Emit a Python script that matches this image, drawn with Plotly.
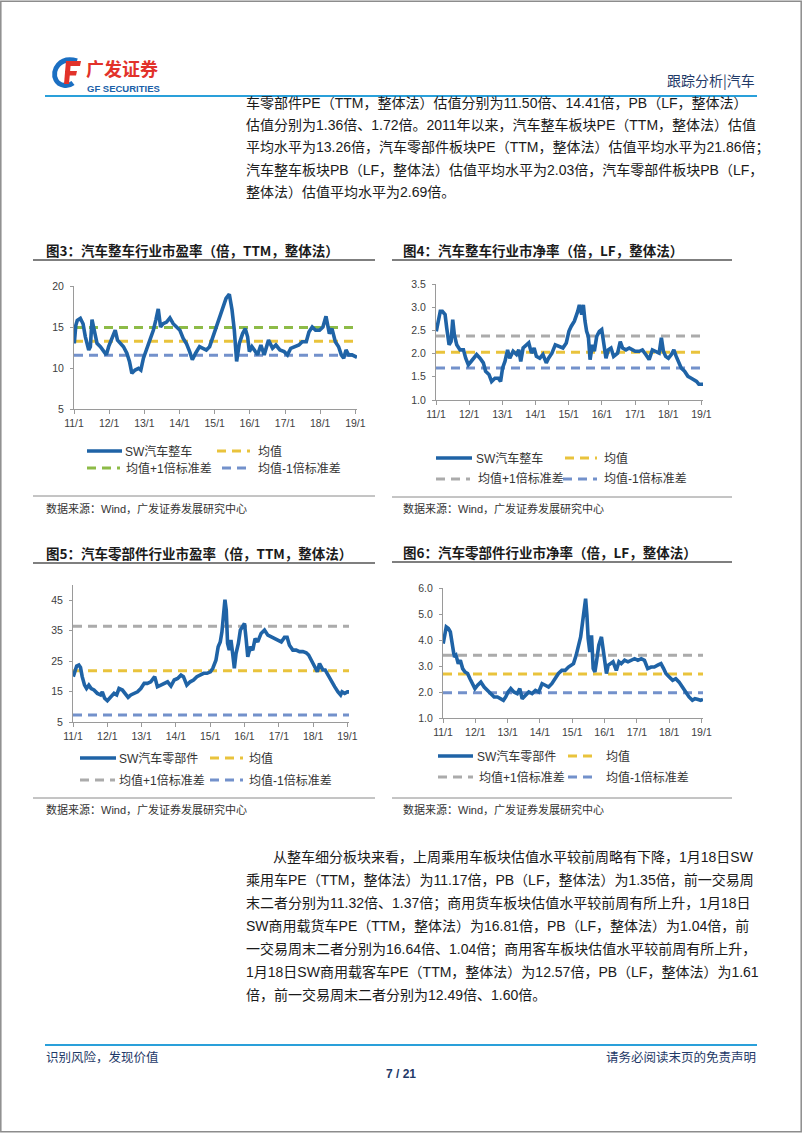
import plotly.graph_objects as go

W, H = 802, 1133

# ---------------- data ----------------
tick_dates = ["2011-01-01", "2012-01-01", "2013-01-01", "2014-01-01", "2015-01-01",
              "2016-01-01", "2017-01-01", "2018-01-01", "2019-01-01"]
tick_labels = ["11/1", "12/1", "13/1", "14/1", "15/1", "16/1", "17/1", "18/1", "19/1"]
x_start, x_end = "2011-01-01", "2019-01-18"

# Fig 3: SW auto (vehicles) PE TTM
auto_pe_dates = ["2011-01-04", "2011-01-20", "2011-02-04", "2011-03-08", "2011-04-05", "2011-04-29", "2011-06-03",
                 "2011-06-20", "2011-07-07", "2011-08-01", "2011-08-28", "2011-10-02", "2011-11-05", "2011-12-03",
                 "2011-12-27", "2012-01-31", "2012-03-04", "2012-03-28", "2012-04-25", "2012-05-29", "2012-07-03",
                 "2012-07-30", "2012-08-24", "2012-09-27", "2012-11-01", "2012-11-25", "2012-12-22", "2013-01-26",
                 "2013-02-28", "2013-04-04", "2013-05-01", "2013-05-25", "2013-06-18", "2013-07-15", "2013-08-19",
                 "2013-09-23", "2013-10-27", "2013-12-01", "2014-01-05", "2014-02-08", "2014-03-13", "2014-04-16",
                 "2014-05-14", "2014-06-17", "2014-07-28", "2014-09-01", "2014-10-06", "2014-11-09", "2014-12-13",
                 "2015-01-17", "2015-02-21", "2015-03-25", "2015-04-29", "2015-06-02", "2015-06-30", "2015-07-24",
                 "2015-08-17", "2015-09-14", "2015-10-18", "2015-11-15", "2015-12-09", "2015-12-27", "2016-01-23",
                 "2016-02-17", "2016-03-21", "2016-04-25", "2016-05-29", "2016-07-13", "2016-08-24", "2016-09-28",
                 "2016-11-08", "2016-12-22", "2017-01-26", "2017-03-01", "2017-04-20", "2017-05-25", "2017-06-28",
                 "2017-08-09", "2017-09-06", "2017-10-10", "2017-11-14", "2017-12-25", "2018-01-29", "2018-03-02",
                 "2018-04-06", "2018-05-03", "2018-06-07", "2018-07-11", "2018-08-08", "2018-09-02", "2018-09-26",
                 "2018-10-23", "2018-11-27", "2019-01-18"]
auto_pe = [13.0, 15.2, 15.8, 16.05, 15.4, 13.8, 12.2,
           12.6, 15.9, 14.6, 13.0, 12.6, 12.0, 11.6,
           12.6, 13.6, 14.6, 13.4, 13.0, 12.6, 11.8,
           10.8, 9.35, 9.75, 9.96, 9.75, 11.2, 12.4,
           13.2, 14.6, 15.9, 17.2, 15.0, 15.4, 15.6,
           16.1, 15.4, 15.0, 14.6, 13.6, 13.0, 12.0,
           11.0, 11.8, 12.6, 12.4, 12.2, 12.6, 13.8,
           15.2, 16.3, 17.5, 18.5, 19.0, 17.1, 14.6,
           10.8, 13.0, 14.2, 14.8, 13.8, 12.0, 12.6,
           12.2, 11.6, 12.8, 11.6, 13.4, 12.4, 12.8,
           12.2, 12.0, 11.6, 12.4, 12.6, 12.8, 13.2,
           13.2, 14.4, 15.0, 14.6, 14.6, 15.0, 16.3,
           14.2, 14.8, 13.2, 12.6, 11.6, 11.2, 12.2,
           11.6, 11.6, 11.3]
auto_pe_bands = [13.26, 14.95, 11.57]   # mean, mean+1sd, mean-1sd

# Fig 4: SW auto (vehicles) PB LF
auto_pb_dates = ["2011-01-04", "2011-01-30", "2011-02-17", "2011-03-12", "2011-04-11", "2011-04-29", "2011-05-25",
                 "2011-06-16", "2011-07-04", "2011-07-22", "2011-08-17", "2011-09-23", "2011-10-30", "2011-11-24",
                 "2011-12-23", "2012-01-22", "2012-02-28", "2012-03-23", "2012-04-29", "2012-06-05", "2012-06-30",
                 "2012-08-06", "2012-09-04", "2012-10-11", "2012-11-17", "2012-12-12", "2013-01-03", "2013-01-29",
                 "2013-02-27", "2013-03-23", "2013-04-29", "2013-06-05", "2013-06-30", "2013-07-22", "2013-08-17",
                 "2013-09-23", "2013-10-18", "2013-11-17", "2013-12-16", "2014-01-10", "2014-02-16", "2014-03-23",
                 "2014-04-29", "2014-05-24", "2014-06-30", "2014-08-06", "2014-09-22", "2014-10-29", "2014-12-05",
                 "2015-01-03", "2015-01-29", "2015-03-04", "2015-04-10", "2015-04-28", "2015-05-24", "2015-06-11",
                 "2015-06-29", "2015-07-17", "2015-08-05", "2015-08-24", "2015-09-18", "2015-10-10", "2015-11-05",
                 "2015-12-04", "2015-12-30", "2016-01-21", "2016-02-15", "2016-03-11", "2016-04-10", "2016-05-09",
                 "2016-06-22", "2016-07-21", "2016-08-16", "2016-09-22", "2016-10-28", "2016-12-04", "2017-01-02",
                 "2017-02-15", "2017-03-22", "2017-04-28", "2017-06-04", "2017-07-10", "2017-08-16", "2017-09-22",
                 "2017-10-17", "2017-11-08", "2017-12-03", "2018-01-02", "2018-02-04", "2018-03-03", "2018-03-29",
                 "2018-04-27", "2018-05-23", "2018-06-29", "2018-08-05", "2018-09-11", "2018-10-10", "2018-11-08",
                 "2018-12-03", "2019-01-18"]
auto_pb = [2.48, 2.70, 2.91, 2.91, 2.84, 2.55, 2.19,
           2.26, 2.73, 2.41, 2.19, 2.08, 2.08, 1.90,
           1.76, 1.83, 1.94, 1.98, 1.90, 1.80, 1.62,
           1.55, 1.40, 1.47, 1.47, 1.40, 1.69, 1.83,
           2.08, 1.90, 2.05, 1.98, 2.08, 1.83, 2.12,
           2.19, 2.23, 2.01, 2.12, 1.94, 1.90, 1.98,
           1.80, 1.90, 2.01, 2.19, 2.16, 2.12, 2.23,
           2.48, 2.59, 2.70, 2.91, 3.05, 2.84, 3.05,
           2.70, 2.48, 2.37, 1.87, 2.19, 2.05, 2.37,
           2.48, 2.52, 2.26, 1.90, 2.08, 2.12, 1.94,
           2.01, 2.26, 2.12, 2.08, 2.12, 2.08, 2.05,
           2.05, 2.08, 1.98, 1.87, 2.08, 2.05, 2.01,
           2.34, 2.05, 1.94, 1.90, 1.98, 2.08, 1.94,
           1.80, 1.69, 1.62, 1.51, 1.47, 1.44, 1.40,
           1.34, 1.34]
auto_pb_bands = [2.03, 2.38, 1.69]

# Fig 5: SW auto parts PE TTM
parts_pe_dates = ["2011-01-04", "2011-01-18", "2011-02-09", "2011-03-04", "2011-03-22", "2011-04-09", "2011-05-04",
                  "2011-05-25", "2011-06-19", "2011-07-14", "2011-08-12", "2011-09-17", "2011-10-22", "2011-11-09",
                  "2011-12-04", "2012-01-02", "2012-02-07", "2012-03-13", "2012-04-10", "2012-05-05", "2012-06-10",
                  "2012-07-15", "2012-08-10", "2012-09-08", "2012-10-13", "2012-11-18", "2012-12-23", "2013-01-28",
                  "2013-03-03", "2013-04-08", "2013-05-20", "2013-06-18", "2013-07-24", "2013-08-29", "2013-10-04",
                  "2013-11-09", "2013-12-14", "2014-01-19", "2014-02-24", "2014-03-22", "2014-04-27", "2014-06-02",
                  "2014-07-07", "2014-08-12", "2014-09-17", "2014-10-23", "2014-11-28", "2015-01-03", "2015-01-28",
                  "2015-03-03", "2015-03-27", "2015-04-18", "2015-05-06", "2015-05-23", "2015-06-07", "2015-06-21",
                  "2015-07-05", "2015-07-23", "2015-08-10", "2015-08-28", "2015-09-15", "2015-10-03", "2015-10-28",
                  "2015-11-18", "2015-12-13", "2016-01-01", "2016-01-18", "2016-02-05", "2016-03-04", "2016-03-29",
                  "2016-04-23", "2016-05-21", "2016-06-26", "2016-08-01", "2016-09-06", "2016-10-11", "2016-11-16",
                  "2016-12-22", "2017-01-27", "2017-03-02", "2017-03-30", "2017-04-24", "2017-05-30", "2017-07-04",
                  "2017-08-09", "2017-09-14", "2017-10-20", "2017-11-14", "2017-12-12", "2018-01-17", "2018-02-15",
                  "2018-03-10", "2018-04-15", "2018-05-09", "2018-06-07", "2018-07-13", "2018-08-18", "2018-09-23",
                  "2018-10-21", "2018-11-05", "2018-12-03", "2019-01-01", "2019-01-18"]
parts_pe = [19.9, 21.5, 23.4, 23.7, 22.9, 19.9, 17.1,
            16.0, 17.1, 16.0, 15.5, 14.4, 13.9, 14.9,
            12.8, 12.0, 13.3, 14.4, 13.9, 16.0, 15.5,
            13.9, 13.1, 13.9, 14.4, 14.9, 16.0, 17.7,
            17.7, 18.2, 19.9, 16.6, 17.1, 17.7, 18.2,
            16.8, 18.8, 19.3, 20.4, 19.9, 17.1, 18.2,
            18.8, 19.9, 20.4, 21.0, 21.0, 21.5, 22.6,
            25.3, 29.7, 31.3, 34.6, 41.7, 45.2, 41.7,
            30.8, 28.6, 31.9, 27.5, 22.6, 27.5, 30.8,
            35.2, 36.8, 37.4, 32.4, 26.4, 29.7, 28.6,
            32.4, 31.3, 34.1, 35.2, 33.5, 33.0, 32.4,
            31.9, 31.3, 32.8, 32.8, 30.2, 28.6, 28.6,
            28.1, 28.1, 27.7, 27.0, 25.3, 23.7, 21.5,
            24.2, 22.1, 22.1, 20.4, 18.8, 16.6, 14.9,
            13.9, 14.9, 14.4, 14.9, 14.9]
parts_pe_bands = [21.86, 36.46, 7.26]

# Fig 6: SW auto parts PB LF
parts_pb_dates = ["2011-01-03", "2011-01-19", "2011-02-07", "2011-03-03", "2011-03-25", "2011-04-21", "2011-05-09",
                  "2011-05-28", "2011-06-23", "2011-07-16", "2011-08-11", "2011-09-07", "2011-10-06", "2011-11-02",
                  "2011-12-02", "2011-12-28", "2012-01-27", "2012-03-04", "2012-04-10", "2012-05-17", "2012-06-24",
                  "2012-08-01", "2012-09-08", "2012-10-15", "2012-11-14", "2012-12-10", "2013-01-06", "2013-02-05",
                  "2013-03-12", "2013-04-19", "2013-05-18", "2013-06-14", "2013-07-21", "2013-08-28", "2013-10-04",
                  "2013-11-11", "2013-12-18", "2014-01-25", "2014-03-02", "2014-04-08", "2014-05-15", "2014-06-22",
                  "2014-07-29", "2014-09-05", "2014-10-12", "2014-11-19", "2014-12-19", "2015-01-15", "2015-02-14",
                  "2015-03-10", "2015-04-06", "2015-04-28", "2015-05-16", "2015-06-01", "2015-06-16", "2015-06-30",
                  "2015-07-19", "2015-08-07", "2015-08-26", "2015-09-14", "2015-10-02", "2015-10-28", "2015-11-27",
                  "2015-12-16", "2016-01-04", "2016-01-23", "2016-02-11", "2016-03-07", "2016-04-06", "2016-05-13",
                  "2016-06-12", "2016-07-08", "2016-08-15", "2016-09-22", "2016-10-29", "2016-12-06", "2017-01-12",
                  "2017-02-19", "2017-03-27", "2017-05-03", "2017-06-10", "2017-07-17", "2017-08-24", "2017-09-30",
                  "2017-10-30", "2017-11-25", "2018-01-02", "2018-02-09", "2018-03-16", "2018-04-23", "2018-05-30",
                  "2018-07-06", "2018-08-13", "2018-09-20", "2018-10-19", "2018-11-15", "2018-12-22", "2019-01-18"]
parts_pb = [3.86, 4.18, 4.50, 4.44, 4.31, 3.73, 3.35,
            3.41, 3.09, 3.22, 2.90, 2.77, 2.71, 2.51,
            2.32, 2.13, 2.26, 2.38, 2.19, 2.06, 1.94,
            1.81, 1.81, 1.74, 1.68, 1.81, 2.00, 2.13,
            2.00, 1.94, 2.13, 1.74, 1.87, 2.00, 1.94,
            2.06, 2.00, 2.32, 2.26, 2.19, 2.32, 2.51,
            2.71, 2.83, 2.83, 2.96, 3.03, 3.09, 3.41,
            3.80, 4.12, 4.69, 5.27, 5.59, 4.95, 4.05,
            3.54, 4.18, 2.90, 2.77, 3.16, 3.80, 4.12,
            3.67, 3.03, 2.71, 3.03, 3.09, 3.16, 2.83,
            3.16, 3.09, 3.22, 3.16, 3.22, 3.28, 3.22,
            3.28, 3.22, 2.90, 2.96, 2.96, 3.03, 3.09,
            2.90, 2.71, 2.58, 2.45, 2.51, 2.38, 2.19,
            2.00, 1.81, 1.68, 1.74, 1.72, 1.68, 1.72]
parts_pb_bands = [2.69, 3.41, 1.97]

band_names = ["均值", "均值+1倍标准差", "均值-1倍标准差"]

# ---------------- styling ----------------
BLUE = "#1F63A6"
YELLOW = "#E9C33C"
GREEN = "#8DBB47"
GRAY = "#ABABAB"
LAV = "#7391CB"
DASH = "9px,6px"
TXT = "#1a1a1a"
NAVY = "#1F3A68"
HEADBLUE = "#2AA0DA"
SANS = "Liberation Sans, Noto Sans CJK SC, sans-serif"
CJK = "Noto Sans CJK SC, Liberation Sans, sans-serif"

fig = go.Figure()
shapes, anns = [], []


def X(px):
    return px / W


def Y(py):
    return 1 - py / H


def text(x, y, s, size=12, color=TXT, anchor="left", family=SANS):
    anns.append(dict(x=X(x), y=Y(y), xref="paper", yref="paper", text=s, showarrow=False,
                     xanchor=anchor, yanchor="middle", borderpad=0,
                     font=dict(size=size, color=color, family=family)))


def hline(x0, x1, y, color, width=1, dash=None):
    ln = dict(color=color, width=width)
    if dash:
        ln["dash"] = dash
    shapes.append(dict(type="line", xref="paper", yref="paper", x0=X(x0), x1=X(x1), y0=Y(y), y1=Y(y), line=ln))


charts = [
    dict(dates=auto_pe_dates, vals=auto_pe, bands=auto_pe_bands, name="SW汽车整车",
         colors=[YELLOW, GREEN, LAV], yr=[5, 20], yt=[5, 10, 15, 20], fmt="d",
         dx=(74, 357), dy=(286, 409)),
    dict(dates=auto_pb_dates, vals=auto_pb, bands=auto_pb_bands, name="SW汽车整车",
         colors=[YELLOW, GRAY, LAV], yr=[1, 3.5], yt=[1.0, 1.5, 2.0, 2.5, 3.0, 3.5], fmt=".1f",
         dx=(436, 703), dy=(284, 400)),
    dict(dates=parts_pe_dates, vals=parts_pe, bands=parts_pe_bands, name="SW汽车零部件",
         colors=[YELLOW, GRAY, LAV], yr=[5, 50], yt=[5, 15, 25, 35, 45], fmt="d",
         dx=(73, 349), dy=(585, 722)),
    dict(dates=parts_pb_dates, vals=parts_pb, bands=parts_pb_bands, name="SW汽车零部件",
         colors=[YELLOW, GRAY, LAV], yr=[1, 6], yt=[1.0, 2.0, 3.0, 4.0, 5.0, 6.0], fmt=".1f",
         dx=(443, 703), dy=(588, 718)),
]

layout_axes = {}
for i, c in enumerate(charts, start=1):
    xa = "x" if i == 1 else f"x{i}"
    ya = "y" if i == 1 else f"y{i}"
    for b, col in zip(c["bands"], c["colors"]):
        fig.add_trace(go.Scatter(x=[x_start, x_end], y=[b, b], mode="lines", xaxis=xa, yaxis=ya,
                                 line=dict(color=col, width=3, dash=DASH), showlegend=False, hoverinfo="skip"))
    fig.add_trace(go.Scatter(x=c["dates"], y=c["vals"], mode="lines", xaxis=xa, yaxis=ya, name=c["name"],
                             line=dict(color=BLUE, width=3.6), showlegend=False))
    xkey = "xaxis" if i == 1 else f"xaxis{i}"
    ykey = "yaxis" if i == 1 else f"yaxis{i}"
    layout_axes[xkey] = dict(domain=[X(c["dx"][0]), X(c["dx"][1])], anchor=ya, type="date", automargin=False,
                             range=[x_start, x_end], tickmode="array", tickvals=tick_dates, ticktext=tick_labels,
                             showline=True, linecolor="#9a9a9a", linewidth=1, ticks="outside", ticklen=4,
                             tickcolor="#9a9a9a", showgrid=False, zeroline=False,
                             tickfont=dict(size=10.5, color="#404040", family=SANS))
    layout_axes[ykey] = dict(domain=[Y(c["dy"][1]), Y(c["dy"][0])], anchor=xa, range=c["yr"], automargin=False,
                             tickmode="array", tickvals=c["yt"], tickformat=c["fmt"],
                             showline=True, linecolor="#9a9a9a", linewidth=1, ticks="outside", ticklen=3,
                             tickcolor="#9a9a9a", showgrid=False, zeroline=False, ticklabelstandoff=4,
                             tickfont=dict(size=10.5, color="#404040", family=SANS))

# ---------------- chart titles, rules, legends, sources ----------------
titles = ["图3：汽车整车行业市盈率（倍，TTM，整体法）", "图4：汽车整车行业市净率（倍，LF，整体法）",
          "图5：汽车零部件行业市盈率（倍，TTM，整体法）", "图6：汽车零部件行业市净率（倍，LF，整体法）"]
source = "数据来源：Wind，广发证券发展研究中心"
frames = [  # title_x, title_y, rule_x0, rule_x1, bottom_rule_y, source_y
    (45, 250, 33, 375, 496, 508),
    (402, 250, 392, 732, 497, 508),
    (45, 553, 33, 375, 798, 810),
    (402, 552, 392, 732, 798, 810),
]
for (tx, ty, r0, r1, by, sy), t in zip(frames, titles):
    text(tx, ty, "<b>" + t + "</b>", size=13.5, color=TXT, family=CJK)
    hline(r0, r1, ty + 10, "#555555", 1.5)
    hline(r0, r1, by, "#8a8a8a", 1)
    text(tx, sy, source, size=11, color="#333333", family=SANS)

legends = [
    (451, 468, (87, 122, 124), (217, 250, 257), (87, 120, 125), (222, 250, 257)),
    (458, 479, (436, 472, 475), (565, 597, 603), (436, 470, 477), (563, 597, 603)),
    (758, 780, (80, 116, 118), (210, 243, 248), (80, 115, 118), (210, 243, 248)),
    (756, 777, (438, 473, 476), (568, 598, 605), (438, 473, 478), (568, 598, 605)),
]
for c, (y1, y2, a, b, d, e) in zip(charts, legends):
    hline(a[0], a[1], y1, BLUE, 3.4)
    text(a[2], y1, c["name"], size=12, color="#333333", family=SANS)
    hline(b[0], b[1], y1, c["colors"][0], 3, DASH)
    text(b[2], y1, band_names[0], size=12, color="#333333", family=SANS)
    hline(d[0], d[1], y2, c["colors"][1], 3, DASH)
    text(d[2], y2, band_names[1], size=12, color="#333333", family=SANS)
    hline(e[0], e[1], y2, c["colors"][2], 3, DASH)
    text(e[2], y2, band_names[2], size=12, color="#333333", family=SANS)


# ---------------- page header ----------------
def path(points, close=True):
    s = "M " + " L ".join(f"{X(px):.5f},{Y(py):.5f}" for px, py in points)
    return s + (" Z" if close else "")


shapes.append(dict(type="path", xref="paper", yref="paper",
                   path=f"M {X(77):.5f},{Y(61):.5f} C {X(60):.5f},{Y(56):.5f} {X(51):.5f},{Y(70):.5f} {X(56):.5f},{Y(80):.5f} "
                        f"C {X(59):.5f},{Y(86):.5f} {X(68):.5f},{Y(87):.5f} {X(73):.5f},{Y(83):.5f}",
                   line=dict(color="#1B6FC2", width=5)))
for poly in [[(66, 61), (81, 61), (80, 66), (66, 66)],
             [(66, 61), (71, 61), (69, 84), (64, 84)],
             [(65, 71), (77, 71), (76, 75.5), (65, 75.5)]]:
    shapes.append(dict(type="path", xref="paper", yref="paper", path=path(poly),
                       fillcolor="#E2322A", line=dict(width=0)))
text(85, 68, "<b>广发证券</b>", size=18, color="#E2322A", family=CJK)
text(86, 88.5, "<b>GF SECURITIES</b>", size=9.5, color="#1B5FA8", family=SANS)
text(756, 80, "跟踪分析|汽车", size=14, color=NAVY, anchor="right", family=CJK)
hline(45, 757, 96, HEADBLUE, 2)

body_top = [
    "车零部件PE（TTM，整体法）估值分别为11.50倍、14.41倍，PB（LF，整体法）",
    "估值分别为1.36倍、1.72倍。2011年以来，汽车整车板块PE（TTM，整体法）估值",
    "平均水平为13.26倍，汽车零部件板块PE（TTM，整体法）估值平均水平为21.86倍；",
    "汽车整车板块PB（LF，整体法）估值平均水平为2.03倍，汽车零部件板块PB（LF，",
    "整体法）估值平均水平为2.69倍。",
]
for k, line in enumerate(body_top):
    text(245, 103 + k * 22.3, line, size=14, color=TXT, family=SANS)

body_bottom = [
    "从整车细分板块来看，上周乘用车板块估值水平较前周略有下降，1月18日SW",
    "乘用车PE（TTM，整体法）为11.17倍，PB（LF，整体法）为1.35倍，前一交易周",
    "末二者分别为11.32倍、1.37倍；商用货车板块估值水平较前周有所上升，1月18日",
    "SW商用载货车PE（TTM，整体法）为16.81倍，PB（LF，整体法）为1.04倍，前",
    "一交易周末二者分别为16.64倍、1.04倍；商用客车板块估值水平较前周有所上升，",
    "1月18日SW商用载客车PE（TTM，整体法）为12.57倍，PB（LF，整体法）为1.61",
    "倍，前一交易周末二者分别为12.49倍、1.60倍。",
]
for k, line in enumerate(body_bottom):
    text(272 if k == 0 else 245, 857 + k * 23, line, size=14, color=TXT, family=SANS)

# ---------------- footer ----------------
hline(45, 757, 1045, HEADBLUE, 2)
text(45, 1056, "识别风险，发现价值", size=12.5, color=NAVY, family=CJK)
text(757, 1056, "请务必阅读末页的免责声明", size=12.5, color=NAVY, anchor="right", family=CJK)
text(401, 1074, "<b>7 / 21</b>", size=12, color=NAVY, anchor="center", family=SANS)

# page frame
shapes.append(dict(type="rect", xref="paper", yref="paper", x0=0.001, x1=0.999, y0=0.001, y1=0.999,
                   line=dict(color="#8c8c8c", width=1.5)))

fig.update_layout(template="none", autosize=False, width=W, height=H,
                  margin=dict(l=0, r=0, t=0, b=0, pad=0, autoexpand=False), paper_bgcolor="white",
                  plot_bgcolor="white", showlegend=False, shapes=shapes, annotations=anns, **layout_axes)

fig.write_html("out.html", config={"displayModeBar": False},
               post_script="document.body.style.margin='0';")
